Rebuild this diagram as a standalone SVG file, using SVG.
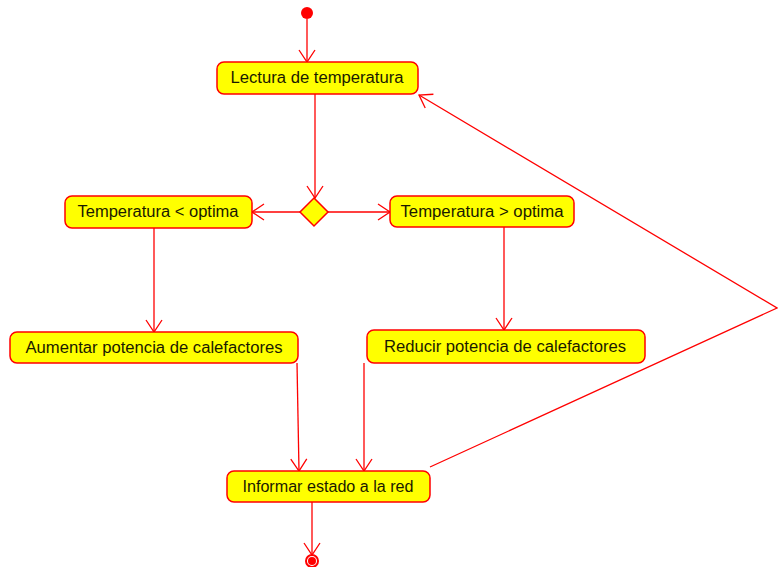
<svg xmlns="http://www.w3.org/2000/svg" width="778" height="567" viewBox="0 0 778 567">
  <style>
    .act rect { fill: #FFFF00; stroke: #FF0000; stroke-width: 1.5; }
    .act text { font-family: "Liberation Sans", Arial, sans-serif; font-size: 16px; fill: #1a1a00; text-anchor: middle; }
    .edge { fill: none; stroke: #FF0000; stroke-width: 1.3; }
  </style>
  <defs>
    <marker id="open" markerUnits="userSpaceOnUse" markerWidth="16" markerHeight="20" viewBox="-14 -10 16 20" refX="0" refY="0" orient="auto">
      <path d="M-12,-8 L0,0 L-12,8" fill="none" stroke="#FF0000" stroke-width="1.3"/>
    </marker>
  </defs>

  <rect width="778" height="567" fill="#FFFFFF"/>

  <!-- connectors -->
  <g id="connectors">
    <line class="edge" x1="307" y1="19" x2="307" y2="62" marker-end="url(#open)"/>
    <line class="edge" x1="315" y1="94" x2="315" y2="198" marker-end="url(#open)"/>
    <line class="edge" x1="300" y1="212" x2="252" y2="212" marker-end="url(#open)"/>
    <line class="edge" x1="328" y1="212" x2="390" y2="212" marker-end="url(#open)"/>
    <line class="edge" x1="154" y1="228" x2="154" y2="332" marker-end="url(#open)"/>
    <line class="edge" x1="504" y1="227" x2="504" y2="330" marker-end="url(#open)"/>
    <line class="edge" x1="297" y1="363" x2="299" y2="471" marker-end="url(#open)"/>
    <line class="edge" x1="364" y1="363" x2="364" y2="471" marker-end="url(#open)"/>
    <line class="edge" x1="312" y1="502" x2="312" y2="555" marker-end="url(#open)"/>
    <polyline class="edge" points="430,467 777,308 419,95" marker-end="url(#open)"/>
  </g>

  <!-- start state -->
  <g id="start">
    <circle cx="307" cy="13" r="6" fill="#FF0000"/>
  </g>

  <g id="lectura" class="act">
    <rect x="217" y="62" width="201" height="32" rx="7"/>
    <text x="317" y="83" textLength="173" lengthAdjust="spacingAndGlyphs">Lectura de temperatura</text>
  </g>

  <!-- decision -->
  <g id="decision">
    <polygon points="314,198 328,212 314,226 300,212" fill="#FFFF00" stroke="#FF0000" stroke-width="1.5"/>
  </g>

  <g id="menor" class="act">
    <rect x="65" y="196" width="187" height="32" rx="7"/>
    <text x="158" y="217" textLength="161" lengthAdjust="spacingAndGlyphs">Temperatura &lt; optima</text>
  </g>

  <g id="mayor" class="act">
    <rect x="390" y="196" width="184" height="31" rx="7"/>
    <text x="482" y="217" textLength="163" lengthAdjust="spacingAndGlyphs">Temperatura &gt; optima</text>
  </g>

  <g id="aumentar" class="act">
    <rect x="10" y="332" width="288" height="31" rx="7"/>
    <text x="154" y="353" textLength="257" lengthAdjust="spacingAndGlyphs">Aumentar potencia de calefactores</text>
  </g>

  <g id="reducir" class="act">
    <rect x="367" y="330" width="278" height="33" rx="7"/>
    <text x="505" y="352" textLength="242" lengthAdjust="spacingAndGlyphs">Reducir potencia de calefactores</text>
  </g>

  <g id="informar" class="act">
    <rect x="227" y="471" width="203" height="31" rx="7"/>
    <text x="328" y="492" textLength="171" lengthAdjust="spacingAndGlyphs">Informar estado a la red</text>
  </g>

  <!-- end state -->
  <g id="end">
    <circle cx="312" cy="561" r="6" fill="none" stroke="#FF0000" stroke-width="2"/>
    <circle cx="312" cy="561" r="4" fill="#FF0000"/>
  </g>
</svg>
